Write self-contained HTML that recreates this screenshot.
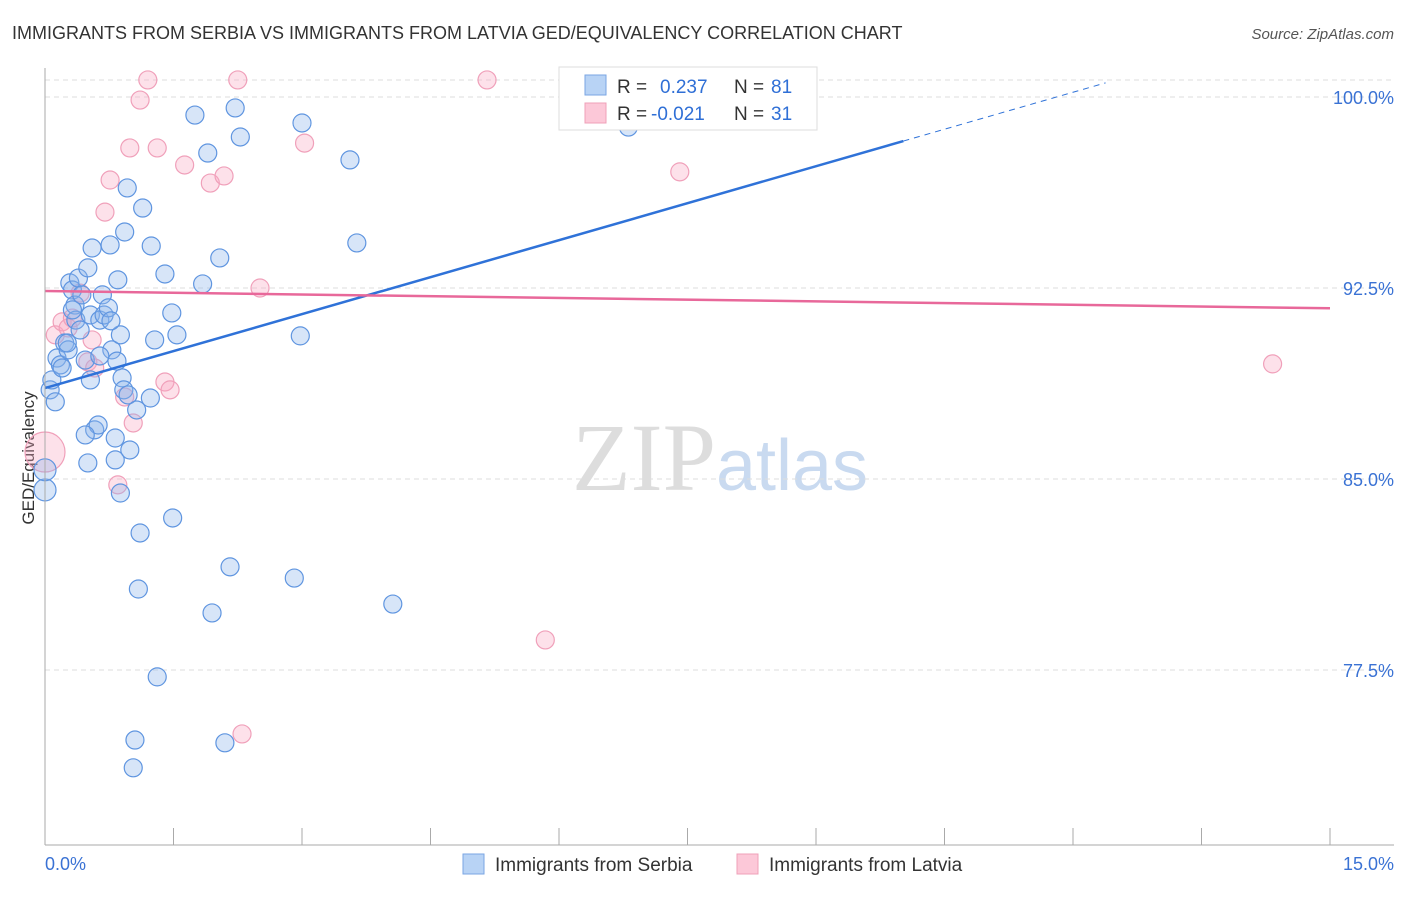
<!DOCTYPE html>
<html><head><meta charset="utf-8"><style>
body{margin:0;background:#fff;font-family:"Liberation Sans",sans-serif;}
</style></head><body>
<svg id="chart" width="1406" height="892" xmlns="http://www.w3.org/2000/svg" font-family="Liberation Sans, sans-serif">
<text x="12" y="39" font-size="18" fill="#333">IMMIGRANTS FROM SERBIA VS IMMIGRANTS FROM LATVIA GED/EQUIVALENCY CORRELATION CHART</text>
<text x="1394" y="39" font-size="15" fill="#555" text-anchor="end" font-style="italic">Source: ZipAtlas.com</text>
<text transform="translate(34,458) rotate(-90)" font-size="17" fill="#333" text-anchor="middle">GED/Equivalency</text>
<text x="720" y="490" font-size="96" fill="#ddd" text-anchor="middle" font-family="Liberation Serif, serif">ZIP<tspan fill="#c9daf0" font-family="Liberation Sans, sans-serif" font-size="72">atlas</tspan></text>
<g id="grid"></g><g id="marks"></g><g id="axes"></g>
<g>
<rect x="559" y="67" width="258" height="63" fill="#fff" stroke="#ddd"/>
<rect x="585" y="75" width="21" height="20" fill="#b8d3f5" stroke="#7aa6e3"/>
<rect x="585" y="103" width="21" height="20" fill="#fcc8d8" stroke="#efa0b8"/>
<text x="617" y="93" font-size="19" fill="#333">R = </text><text x="660" y="93" font-size="19" fill="#2f6fd6">0.237</text>
<text x="734" y="93" font-size="19" fill="#333">N = </text><text x="771" y="93" font-size="19" fill="#2f6fd6">81</text>
<text x="617" y="120" font-size="19" fill="#333">R = </text><text x="651" y="120" font-size="19" fill="#2f6fd6">-0.021</text>
<text x="734" y="120" font-size="19" fill="#333">N = </text><text x="771" y="120" font-size="19" fill="#2f6fd6">31</text>
</g>
<g>
<rect x="463" y="854" width="21" height="20" fill="#b8d3f5" stroke="#7aa6e3"/>
<text x="495" y="871" font-size="19" fill="#333">Immigrants from Serbia</text>
<rect x="737" y="854" width="21" height="20" fill="#fcc8d8" stroke="#efa0b8"/>
<text x="769" y="871" font-size="19" fill="#333">Immigrants from Latvia</text>
</g>
</svg>
<script>
const serbiaX=[0,0,.06,.12,.08,.14,.18,.20,.23,.27,.29,.32,.35,.36,.41,.39,.43,.47,.50,.53,.55,.58,.62,.64,.67,.69,.74,.76,.78,.82,.85,.88,.90,.92,.97,.99,1.07,1.23,.96,.93,1.14,1.24,1.40,1.48,1.54,1.28,1.75,1.90,2.22,2.28,2.04,1.84,3.00,3.56,3.64,2.98,.82,.50,.47,1.11,1.49,.88,1.09,2.16,2.91,1.95,4.06,1.31,1.05,2.10,1.03,6.81,8.43,.77,.64,.53,.84,.26,.32];
const serbiaY=[84.57,85.36,88.50,88.03,88.89,89.75,89.48,89.36,90.34,90.07,92.70,92.42,91.83,91.24,90.85,92.89,92.23,89.67,93.29,91.44,94.07,86.93,87.12,91.24,92.23,91.44,91.72,94.19,90.07,86.61,92.82,90.66,88.97,88.50,88.30,86.14,87.71,88.18,96.43,94.70,95.64,94.15,93.05,91.52,90.66,90.46,99.29,97.80,99.57,98.43,93.68,92.66,98.98,97.53,94.27,90.62,85.75,85.63,86.73,82.88,83.47,84.45,80.68,81.55,81.11,79.74,80.09,77.23,74.75,74.64,73.66,98.82,100.67,91.21,89.83,88.89,89.63,90.34,91.64];
const latviaX=[0,.12,.20,.27,.32,.41,.50,.58,.55,.76,.70,.99,1.20,1.11,1.31,1.63,1.93,2.09,2.25,3.03,2.51,5.16,7.41,14.33,1.40,1.46,.93,1.03,.85,5.84,2.30];
const latviaY=[86.06,90.66,91.17,90.93,91.32,92.30,89.60,89.36,90.46,96.74,95.48,98.00,100.67,99.88,98.00,97.33,96.62,96.90,100.67,98.19,92.50,100.67,97.06,89.52,88.81,88.50,88.22,87.20,84.77,78.68,74.99];
const yTicks=[100,92.5,85,77.5];
const yTickLabels=["100.0%","92.5%","85.0%","77.5%"];
const serbiaTrend=[88.57,0.968];
const latviaTrend=[92.38,-0.045];
const NS="http://www.w3.org/2000/svg";
const xs=v=>45+v/15*1285;
const ys=v=>97+(100-v)/7.5*191;
function mk(t,a,p){const e=document.createElementNS(NS,t);for(const k in a)e.setAttribute(k,a[k]);p.appendChild(e);return e;}
const grid=document.getElementById('grid'),marks=document.getElementById('marks'),axes=document.getElementById('axes');
yTicks.forEach((v,i)=>{
 const l=mk('line',{x1:45,x2:1394,y1:ys(v),y2:ys(v),stroke:'#ddd','stroke-dasharray':'5,4'},grid);
 
 
 const t=mk('text',{x:1394,y:ys(v)+7,'font-size':18,fill:'#3a72d4','text-anchor':'end'},axes);
 t.textContent=yTickLabels[i];
 
 
});
const topGrid=mk('line',{x1:45,x2:1394,y1:80,y2:80,stroke:'#ddd','stroke-dasharray':'5,4'},grid);


const ya=mk('line',{x1:45,x2:45,y1:68,y2:845,stroke:'#aaa'},axes);


const xa=mk('line',{x1:45,x2:1394,y1:845,y2:845,stroke:'#aaa'},axes);


for(let i=0;i<=10;i++){const tk=mk('line',{x1:xs(i*1.5),x2:xs(i*1.5),y1:828,y2:845,stroke:'#aaa'},axes);
 
 }
const xMinLabel=mk('text',{x:45,y:870,'font-size':18,fill:'#3a72d4'},axes);xMinLabel.textContent='0.0%';


const xMaxLabel=mk('text',{x:1394,y:870,'font-size':18,fill:'#3a72d4','text-anchor':'end'},axes);xMaxLabel.textContent='15.0%';


latviaX.forEach((x,i)=>{const c=mk('circle',{cx:xs(x),cy:ys(latviaY[i]),r:i==0?20:9,fill:'rgba(248,170,195,0.35)',stroke:'#f0a0ba','stroke-width':1.2},marks);
 
 });
serbiaX.forEach((x,i)=>{const c=mk('circle',{cx:xs(x),cy:ys(serbiaY[i]),r:i<2?11:9,fill:'rgba(140,180,235,0.35)',stroke:'#5f95e0','stroke-width':1.2},marks);
 
 });
const bEnd=10.02, bDash=12.38;
const b1=mk('line',{x1:xs(0),y1:ys(serbiaTrend[0]),x2:xs(bEnd),y2:ys(serbiaTrend[0]+serbiaTrend[1]*bEnd),stroke:'#2f72d8','stroke-width':2.5},marks);


const b2=mk('line',{x1:xs(bEnd),y1:ys(serbiaTrend[0]+serbiaTrend[1]*bEnd),x2:xs(bDash),y2:ys(serbiaTrend[0]+serbiaTrend[1]*bDash),stroke:'#2f72d8','stroke-width':1,'stroke-dasharray':'6,5'},marks);


const p1=mk('line',{x1:xs(0),y1:ys(latviaTrend[0]),x2:xs(15),y2:ys(latviaTrend[0]+latviaTrend[1]*15),stroke:'#e8689a','stroke-width':2.5},marks);


</script>
</body></html>
